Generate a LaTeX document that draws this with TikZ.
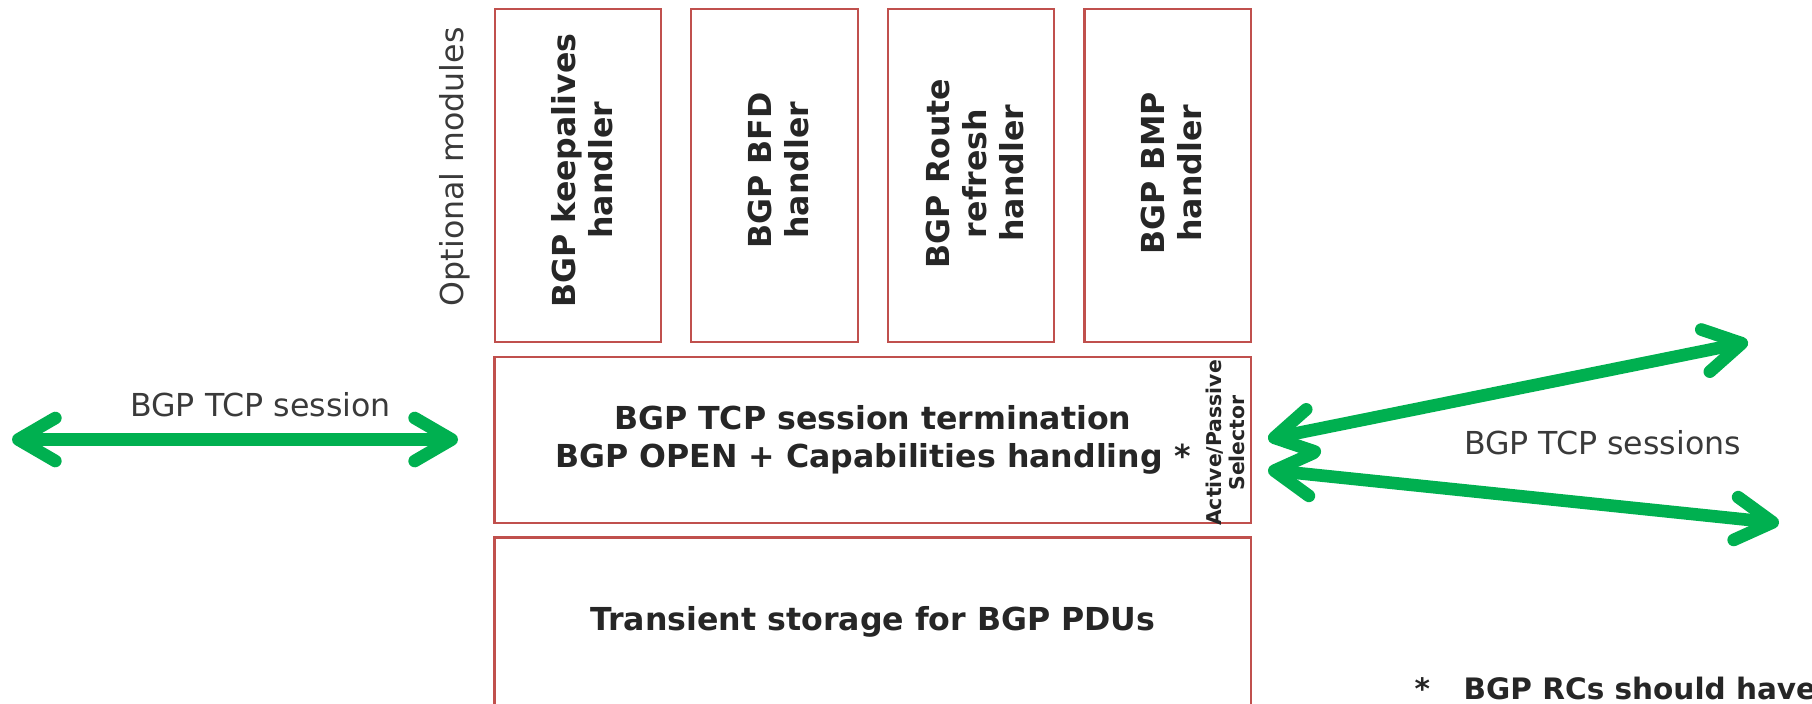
\documentclass[tikz,border=0pt]{standalone}
\usepackage{fontspec}
\setmainfont{DejaVu Sans}
\usetikzlibrary{arrows.meta}

\definecolor{boxred}{HTML}{C0504D}
\definecolor{linkgreen}{HTML}{00B050}
\definecolor{inkgrey}{HTML}{262626}
\definecolor{lblgrey}{HTML}{3A3A3A}

\tikzset{
  boxtext/.style={font=\fontsize{9}{11}\selectfont\bfseries, text=inkgrey, align=center},
  modbox/.style={draw=boxred, line width=0.7pt, inner sep=0pt,
    minimum width=16.65mm, minimum height=33.27mm},
  modtext/.style={boxtext, font=\fontsize{9}{10.6}\selectfont\bfseries, rotate=90, inner sep=0pt},
  widebox/.style={draw=boxred, line width=0.7pt, inner sep=0pt,
    minimum width=75.64mm, boxtext},
  lbl/.style={font=\fontsize{9}{11}\selectfont, text=lblgrey, inner sep=0pt},
  selector/.style={font=\fontsize{5.8}{6.4}\selectfont\bfseries, text=inkgrey,
    align=center, rotate=90, inner sep=0pt},
  note/.style={font=\fontsize{8.4}{10}\selectfont\bfseries, text=inkgrey, inner sep=0pt},
  tcplink/.style={draw=linkgreen, line width=3.6pt,
    {Straight Barb[round, length=3.7mm, width=4.3mm]}-{Straight Barb[round, length=3.7mm, width=4.3mm]}},
}

\begin{document}
\begin{tikzpicture}[x=0.1mm, y=-0.1mm]
\useasboundingbox (0,0) rectangle (1812,703);

% optional modules
\node[modbox] (keep) at (578,175.4) {};
\node[modbox] (bfd) at (774.5,175.4) {};
\node[modbox] (refresh) at (971,175.4) {};
\node[modbox] (bmp) at (1167.5,175.4) {};
\node[modtext] (keeptxt) at ([xshift=0.4mm, yshift=0.5mm]keep.center) {BGP keepalives\\handler};
\node[modtext] (bfdtxt) at ([xshift=0.4mm, yshift=0.5mm]bfd.center) {BGP BFD\\handler};
\node[modtext] (refreshtxt) at ([xshift=0.4mm, yshift=0.2mm]refresh.center) {BGP Route\\refresh\\handler};
\node[modtext] (bmptxt) at ([xshift=0.4mm, yshift=0.2mm]bmp.center) {BGP BMP\\handler};
\node[lbl, rotate=90, anchor=base] (optional) at (463,166.7) {Optional modules};

% session layer and storage
\node[widebox, minimum height=16.57mm] (term) at (872.8,439.9)
  {BGP TCP session termination\\BGP OPEN + Capabilities handling~*};
\node[selector] (sel) at (1225.5,443) {Active/Passive\\Selector};
\node[widebox, minimum height=16.9mm] (pdus) at (872.8,622) {Transient storage for BGP PDUs};

% peer sessions
\coordinate (peerL) at (12,439.5);
\coordinate (termL) at (458,439.5);
\coordinate (termR1) at (1268,439);
\coordinate (peerR1) at (1748,342);
\coordinate (termR2) at (1268,470);
\coordinate (peerR2) at (1779,523);
\draw[tcplink] (peerL) -- (termL);
\draw[tcplink] (termR1) -- (peerR1);
\draw[tcplink] (termR2) -- (peerR2);
\node[lbl, anchor=base] (lsess) at (260.5,416) {BGP TCP session};
\node[lbl, anchor=base] (rsess) at (1602.5,454) {BGP TCP sessions};

% footnote
\node[note, anchor=base west] (star) at (1414,699) {*};
\node[note, anchor=base west] (rcs) at (1463,699) {BGP RCs should have};
\end{tikzpicture}
\end{document}
